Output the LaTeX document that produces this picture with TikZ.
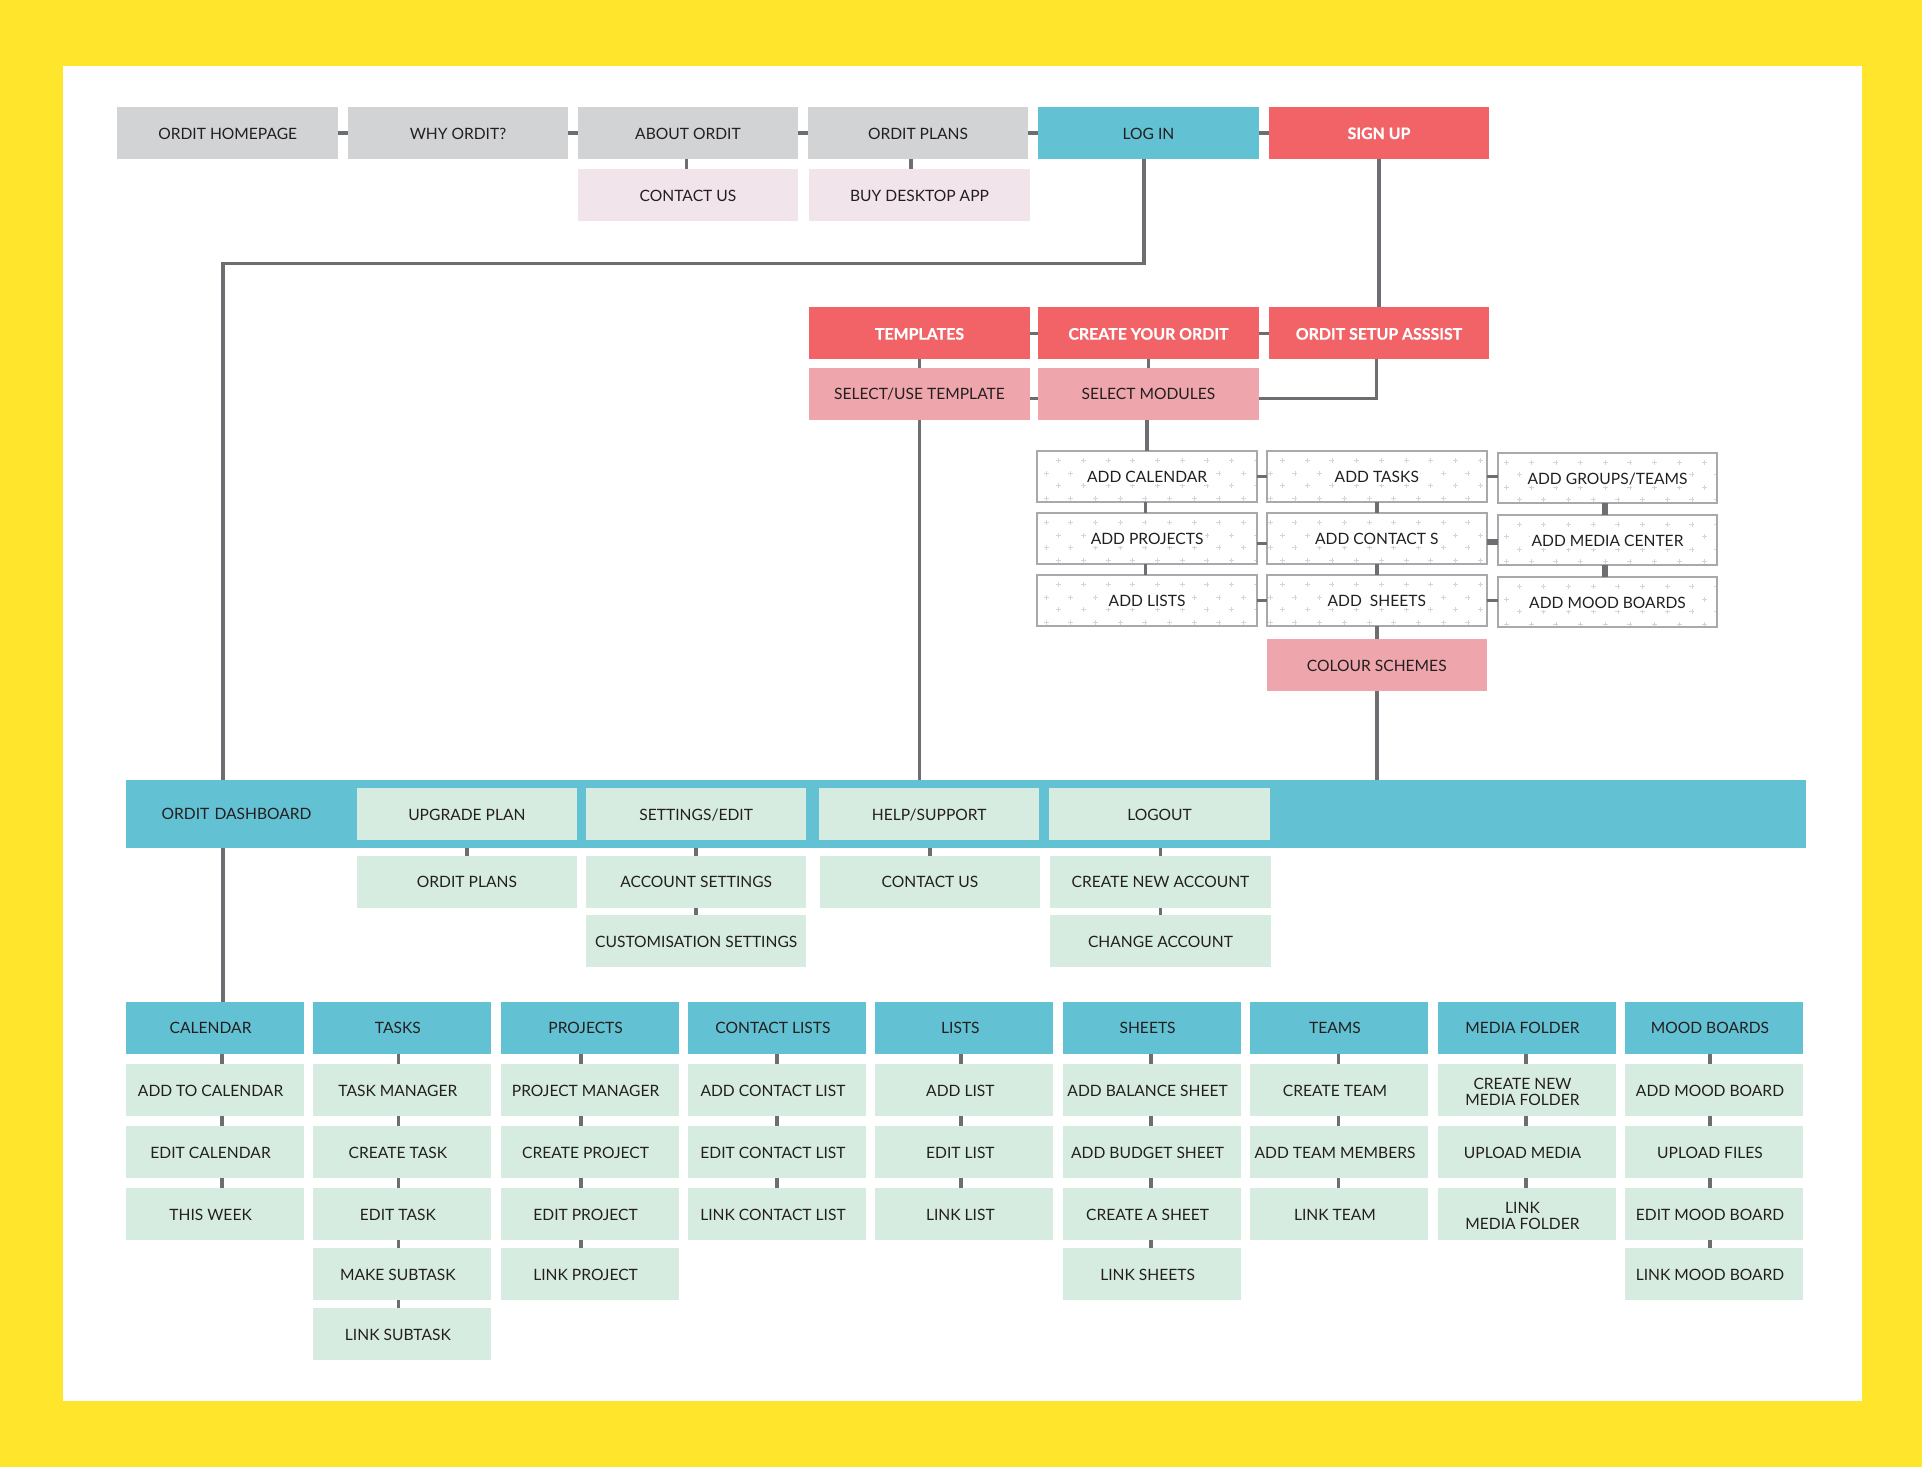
\documentclass[tikz,border=0pt]{standalone}
\usepackage{fontspec}
\setmainfont{Lato}
\definecolor{bgyellow}{HTML}{FFE52C}
\definecolor{linegray}{HTML}{6D6E71}
\definecolor{topgray}{HTML}{D1D3D4}
\definecolor{palepink}{HTML}{F1E4EA}
\definecolor{teal}{HTML}{62C1D2}
\definecolor{coral}{HTML}{F26368}
\definecolor{salmon}{HTML}{EEA6AC}
\definecolor{mint}{HTML}{D7ECE1}
\definecolor{framegray}{HTML}{A7A9AC}
\definecolor{plusgray}{HTML}{D4D5D7}
\definecolor{inkdark}{HTML}{231F20}
\setlength{\fboxsep}{1.5pt}
\newcommand{\blanked}[1]{\colorbox{white}{#1}}
\newcommand{\twolines}[2]{\raisebox{-1.6pt}{\begin{tabular}{@{}c@{}}#1\\[-.3pt]#2\end{tabular}}}
\tikzset{
  box/.style={minimum width=220.5pt,minimum height=52pt,inner sep=0pt,outer sep=0pt,
    text=inkdark,text height=12.5pt,text depth=0pt,font=\fontsize{15.6}{17}\selectfont},
  topbox/.style={box,fill=topgray},
  pinkbox/.style={box,fill=palepink},
  tealbox/.style={box,fill=teal},
  redbox/.style={box,fill=coral,text=white,font=\fontsize{15.9}{17}\selectfont\bfseries\addfontfeature{FakeBold=.6}},
  salmonbox/.style={box,fill=salmon},
  mintbox/.style={box,fill=mint},
  colhead/.style={box,fill=teal,minimum width=178pt,execute at begin node={\hspace*{-8pt}}},
  colitem/.style={box,fill=mint,minimum width=178pt,execute at begin node={\hspace*{-8pt}}},
  plusbox/.style 2 args={box,draw=framegray,line width=2pt,fill=white,
    minimum width=219.5pt,minimum height=50.4pt,
    path picture={
      \foreach \r/\o in {9.3/#1,22/#2,34.3/#1,47/#2}
        \foreach \c in {0,...,8}{
          \pgfmathsetmacro{\px}{\o-1+24.7*\c}
          \draw[plusgray,line width=.7pt] ([shift={(\px,\r)}]path picture bounding box.north west)
            +(-2.5,0) -- +(2.5,0) +(0,-2.5) -- +(0,2.5);
        }
    }},
  link/.style={linegray,line width=3.5pt},
  heavylink/.style={linegray,line width=5.5pt}
}
\begin{document}
\begin{tikzpicture}[x=1pt,y=-1pt]
\useasboundingbox (0,0) rectangle (1922,1467);
\fill[bgyellow] (0,0) rectangle (1922,1467);
\fill[white] (62.5,66) rectangle (1862,1401);

% website row
\node[topbox] (home) at (227.7,132.8) {ORDIT HOMEPAGE};
\node[topbox] (why) at (458,132.8) {WHY ORDIT?};
\node[topbox] (about) at (688,132.8) {ABOUT ORDIT};
\node[topbox] (plans) at (918,132.8) {ORDIT PLANS};
\node[tealbox] (login) at (1148.5,132.8) {LOG IN};
\node[redbox] (signup) at (1379,132.8) {SIGN UP};
\node[pinkbox] (contact) at (688,195) {CONTACT US};
\node[pinkbox] (desktop) at (919.5,195) {BUY DESKTOP APP};
\foreach \a/\b in {home/why,why/about,about/plans,plans/login,login/signup}
  \draw[link] (\a.east) -- (\b.west);
\draw[link] ([xshift=-1.4pt]about.south) -- ([xshift=-1.4pt]about.south |- contact.north);
\draw[link] ([xshift=-7pt]plans.south) -- ([xshift=-7pt]plans.south |- desktop.north);

% setup
\node[redbox] (templates) at (919.5,333.4) {TEMPLATES};
\node[redbox] (create) at (1148.5,333.4) {CREATE YOUR ORDIT};
\node[redbox] (setup) at (1379,333.4) {ORDIT SETUP ASSSIST};
\node[salmonbox] (seluse) at (919.5,393.5) {SELECT/USE TEMPLATE};
\node[salmonbox] (modules) at (1148.5,393.5) {SELECT MODULES};
\draw[link] (templates.east) -- (create.west);
\draw[link] (create.east) -- (setup.west);
\draw[link] (signup.south) -- (setup.north);
\draw[link] (templates.south) -- (seluse.north);
\draw[link] (create.south) -- (modules.north);
\draw[link] ([yshift=-5pt]seluse.east) -- ([yshift=-5pt]modules.west);
\draw[link] ([yshift=-5pt]modules.east) -| ([xshift=-2.4pt]setup.south);

% modules
\node[plusbox={22.3}{9.7}] (addcal) at (1147.1,476.5) {\blanked{ADD CALENDAR}};
\node[plusbox={9.7}{22.3}] (addproj) at (1147.1,538.5) {\blanked{ADD PROJECTS}};
\node[plusbox={22.3}{9.7}] (addlists) at (1147.1,600.5) {\blanked{ADD LISTS}};
\node[plusbox={16.5}{4.2}] (addtasks) at (1376.8,476.5) {\blanked{ADD TASKS}};
\node[plusbox={4.2}{16.5}] (addcontact) at (1376.8,538.5) {\blanked{ADD CONTACT S}};
\node[plusbox={16.5}{4.2}] (addsheets) at (1376.8,600.5) {\blanked{ADD\ \ SHEETS}};
\node[plusbox={9.7}{22.3}] (addgroups) at (1607.5,478) {\blanked{ADD GROUPS/TEAMS}};
\node[plusbox={22.3}{9.7}] (addmedia) at (1607.5,540) {\blanked{ADD MEDIA CENTER}};
\node[plusbox={22.3}{9.7}] (addmood) at (1607.5,602.2) {\blanked{ADD MOOD BOARDS}};
\node[salmonbox] (schemes) at (1376.8,665.2) {COLOUR SCHEMES};
\draw[link] (addcal.north |- modules.south) -- (addcal.north);
\draw[link] ([xshift=-1.7pt]addcal.south) -- ([xshift=-1.7pt]addproj.north);
\draw[link] ([xshift=-1.7pt]addproj.south) -- ([xshift=-1.7pt]addlists.north);
\draw[link] (addtasks.south) -- (addcontact.north);
\draw[link] (addcontact.south) -- (addsheets.north);
\draw[link] (addsheets.south) -- (schemes.north);
\draw[heavylink] ([xshift=-2.5pt]addgroups.south) -- ([xshift=-2.5pt]addmedia.north);
\draw[heavylink] ([xshift=-2.5pt]addmedia.south) -- ([xshift=-2.5pt]addmood.north);
\draw[link] (addcal.east) -- (addcal.east -| addtasks.west);
\draw[link] ([yshift=-5pt]addproj.east) -- ([yshift=-5pt]addproj.east -| addcontact.west);
\draw[link] (addlists.east) -- (addlists.east -| addsheets.west);
\draw[link] (addtasks.east) -- (addtasks.east -| addgroups.west);
\draw[heavylink,line width=6pt] ([yshift=-3.5pt]addcontact.east) -- ([yshift=-3.5pt]addcontact.east -| addmedia.west);
\draw[link] (addsheets.east) -- (addsheets.east -| addmood.west);

% dashboard
\node[box,fill=teal,minimum width=1680pt,minimum height=68.3pt,text width=1608pt,inner xsep=36pt,align=left,text height=11pt] (dash) at (965.6,814.2) {ORDIT DASHBOARD};
\node[mintbox] (upgrade) at (466.9,814.2) {UPGRADE PLAN};
\node[mintbox] (settings) at (696.2,814.2) {SETTINGS/EDIT};
\node[mintbox] (help) at (929.2,814.2) {HELP/SUPPORT};
\node[mintbox] (logout) at (1159.6,814.2) {LOGOUT};
\node[mintbox] (dplans) at (466.9,881.7) {ORDIT PLANS};
\node[mintbox] (account) at (696.2,881.7) {ACCOUNT SETTINGS};
\node[mintbox] (dcontact) at (930,881.7) {CONTACT US};
\node[mintbox] (newacc) at (1160.5,881.7) {CREATE NEW ACCOUNT};
\node[mintbox] (custom) at (696.2,941.2) {CUSTOMISATION SETTINGS};
\node[mintbox] (change) at (1160.5,941.2) {CHANGE ACCOUNT};
\foreach \b in {dplans,account,dcontact,newacc}
  \draw[link] (\b.north) -- (\b.north |- dash.south);
\draw[link] (account.south) -- (custom.north);
\draw[link] (newacc.south) -- (change.north);

\coordinate (corner) at (222.8,263.7);
\draw[link] ([xshift=-4.5pt]login.south) |- (corner) -- (corner |- dash.north);
\draw[link] (seluse.south) -- (seluse.south |- dash.north);
\draw[link] (schemes.south) -- (schemes.south |- dash.north);

% columns
\foreach \cname/\cx/\coff/\ctitle/\citems in {
  calendar/214.6/7.3/CALENDAR/{ADD TO CALENDAR,EDIT CALENDAR,THIS WEEK},
  tasks/401.9/-3.5/TASKS/{TASK MANAGER,CREATE TASK,EDIT TASK,MAKE SUBTASK,LINK SUBTASK},
  projects/589.6/-8.6/PROJECTS/{PROJECT MANAGER,CREATE PROJECT,EDIT PROJECT,LINK PROJECT},
  clists/777/0/CONTACT LISTS/{ADD CONTACT LIST,EDIT CONTACT LIST,LINK CONTACT LIST},
  lists/964.4/-3.4/LISTS/{ADD LIST,EDIT LIST,LINK LIST},
  sheets/1151.6/-.6/SHEETS/{ADD BALANCE SHEET,ADD BUDGET SHEET,CREATE A SHEET,LINK SHEETS},
  teams/1339/-.4/TEAMS/{CREATE TEAM,ADD TEAM MEMBERS,LINK TEAM},
  media/1526.5/-.5/MEDIA FOLDER/{\twolines{CREATE NEW}{MEDIA FOLDER},UPLOAD MEDIA,\twolines{LINK}{MEDIA FOLDER}},
  mood/1714/-4/MOOD BOARDS/{ADD MOOD BOARD,UPLOAD FILES,EDIT MOOD BOARD,LINK MOOD BOARD}}{
  \node[colhead] (\cname-0) at (\cx,1027.5) {\ctitle};
  \foreach \citem [count=\n,remember=\n as \prev (initially 0)] in \citems {
    \pgfmathsetmacro{\cy}{{1089.8,1152.3,1213.8,1274.3,1334.2}[\n-1]}
    \node[colitem] (\cname-\n) at (\cx,\cy) {\citem};
    \draw[link] ([xshift=\coff pt]\cname-\prev.south) -- ([xshift=\coff pt]\cname-\prev.south |- \cname-\n.north);
  }
}
\draw[link] (corner |- dash.south) -- (corner |- calendar-0.north);
\end{tikzpicture}
\end{document}
